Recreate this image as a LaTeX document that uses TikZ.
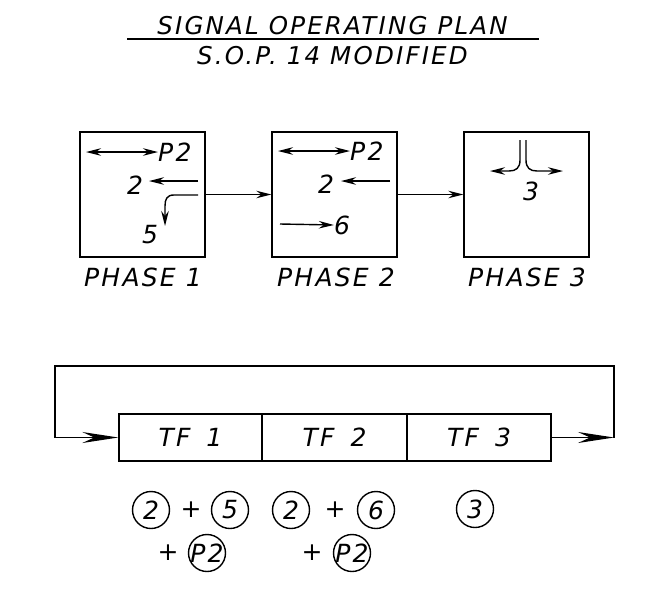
\documentclass[tikz,border=0pt]{standalone}
\usepackage{fontspec}
\newfontfamily\cad[LetterSpace=9]{DejaVu Sans}
\usetikzlibrary{arrows.meta}
\tikzset{
  x=1pt, y=-1pt,
  lw/.style={line width=1.4pt},
  txt/.style={font=\cad\itshape\fontsize{25}{25}\selectfont, inner sep=0pt},
  lbl/.style={font=\cad\itshape\fontsize{25}{25}\selectfont, inner sep=0pt},
  ttl/.style={font=\cad\itshape\fontsize{24.5}{25}\selectfont, inner sep=0pt},
  phasebox/.style={draw, lw, minimum width=125pt, minimum height=125pt, inner sep=0pt},
  tfbox/.style={draw, lw, minimum height=47pt, inner sep=0pt, font=\cad\itshape\fontsize{25}{25}\selectfont},
  ring/.style={draw, lw, circle, minimum size=37pt, inner sep=0pt},
  sa/.style={lw, -{Stealth[length=15pt,width=7.5pt,inset=5pt]}},
  da/.style={lw, {Stealth[length=15pt,width=7.5pt,inset=5pt]}-{Stealth[length=15pt,width=7.5pt,inset=5pt]}},
  big/.style={lw, -{Stealth[length=36pt,width=11pt,inset=12pt]}},
}
\begin{document}
\begin{tikzpicture}
\useasboundingbox (0,0) rectangle (658,598);
% title
\node[ttl] (t1) at (332.5,26) {SIGNAL OPERATING PLAN};
\node[ttl] (t2) at (332.5,56) {S.O.P. 14 MODIFIED};
\coordinate (ls) at (127,39);
\coordinate (le) at (539,39);
\draw[lw] (ls) -- (le);

% phase boxes
\node[phasebox] (p1) at (142.5,194.5) {};
\node[phasebox] (p2) at (334.5,194.5) {};
\node[phasebox] (p3) at (526.5,194.5) {};
\draw[sa] (p1.east) -- (p2.west);
\draw[sa] (p2.east) -- (p3.west);
\node[lbl] (ph1) at (143,277) {PHASE 1};
\node[lbl] (ph2) at (336,277) {PHASE 2};
\node[lbl] (ph3) at (527,277) {PHASE 3};

% phase 1 content
\node[txt, anchor=west] (a1) at (158,152) {P2};
\coordinate (a1s) at (86,152);
\draw[da] (a1s) -- (a1.west);
\node[txt] (a2) at (135,185) {2};
\coordinate (a2s) at (198,181);
\coordinate (a2e) at (149,181);
\draw[sa] (a2s) -- (a2e);
\coordinate (a5s) at (198,195);
\coordinate (a5e) at (165,226);
\draw[sa] (a5s) -- (174,195) .. controls (167,195) and (165,199) .. (165,206) -- (a5e);
\node[txt] (a5) at (150,235) {5};

% phase 2 content
\node[txt, anchor=west] (b1) at (350,151) {P2};
\coordinate (b1s) at (278,151);
\draw[da] (b1s) -- (b1.west);
\node[txt] (b2) at (326,184) {2};
\coordinate (b2s) at (390,181);
\coordinate (b2e) at (341,181);
\draw[sa] (b2s) -- (b2e);
\node[txt] (b6) at (342,225) {6};
\coordinate (b6s) at (280,224);
\draw[sa] (b6s) -- (b6.west);

% phase 3 content
\coordinate (c3l) at (520,140);
\coordinate (c3r) at (526,140);
\coordinate (c3le) at (490,171);
\coordinate (c3re) at (563,171);
\draw[sa] (c3l) -- (520,160) .. controls (520,168) and (516,171) .. (509,171) -- (c3le);
\draw[sa] (c3r) -- (526,160) .. controls (526,168) and (530,171) .. (537,171) -- (c3re);
\node[txt] (c3) at (531,191) {3};

% timing row
\node[tfbox, minimum width=143pt] (tf1) at (190.5,437.5) {TF\hspace{16pt}1};
\node[tfbox, minimum width=145pt] (tf2) at (334.5,437.5) {TF\hspace{16pt}2};
\node[tfbox, minimum width=144pt] (tf3) at (479,437.5) {TF\hspace{16pt}3};
\coordinate (lr) at (614,437.5);
\coordinate (ur) at (614,366);
\coordinate (ul) at (55,366);
\coordinate (ll) at (55,437.5);
\draw[big] (tf3.east) -- (lr);
\draw[lw] (lr) -- (ur) -- (ul) -- (ll);
\draw[big] (ll) -- (tf1.west);

% phase combinations
\node[ring, txt] (r1) at (151,510) {2};
\node[txt] (pl1) at (191,510) {+};
\node[ring, txt] (r2) at (230,510) {5};
\node[ring, txt] (r3) at (291,510) {2};
\node[txt] (pl2) at (335,510) {+};
\node[ring, txt] (r4) at (376,510) {6};
\node[ring, txt] (r5) at (475,509) {3};
\node[txt] (pl3) at (168,553) {+};
\node[ring] (r6) at (207,553) {};
\node[txt] (r6t) at (r6) {P2};
\node[txt] (pl4) at (312,553) {+};
\node[ring] (r7) at (352,553) {};
\node[txt] (r7t) at (r7) {P2};
\end{tikzpicture}
\end{document}
